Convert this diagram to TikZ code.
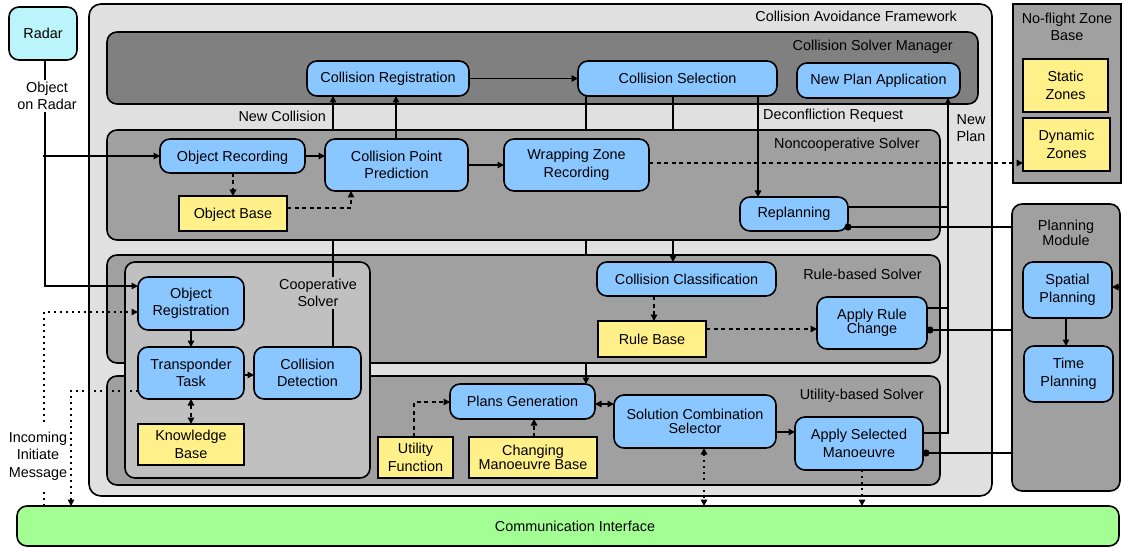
\documentclass[tikz,border=0pt]{standalone}
\usepackage{fontspec}
\setmainfont{Liberation Sans}
\usetikzlibrary{arrows.meta,calc}

% drawing order of the stacked solver panels and the links that run behind them
\pgfdeclarelayer{frames}
\pgfdeclarelayer{utilitylayer}
\pgfdeclarelayer{planlink}
\pgfdeclarelayer{rulelayer}
\pgfdeclarelayer{cooplayer}
\pgfdeclarelayer{uplinks}
\pgfdeclarelayer{noncooplayer}
\pgfsetlayers{frames,utilitylayer,planlink,rulelayer,cooplayer,uplinks,noncooplayer,main}

\definecolor{nodeblue}{RGB}{138,198,255}
\definecolor{baseyellow}{RGB}{255,240,138}
\definecolor{radarcyan}{RGB}{187,245,251}
\definecolor{commgreen}{RGB}{163,255,148}
\definecolor{fwgray}{RGB}{224,224,224}
\definecolor{mgrgray}{RGB}{128,128,128}
\definecolor{solvergray}{RGB}{160,160,160}
\definecolor{coopgray}{RGB}{192,192,192}

\newcommand\dfont{\fontsize{14.4pt}{17.5pt}\selectfont}
\newcommand\tightfont{\fontsize{14.4pt}{14.5pt}\selectfont}
\newcommand\pmfont{\fontsize{14.4pt}{15pt}\selectfont}

\tikzset{
  place/.style n args={4}{minimum width={(#3-#1)*1pt}, minimum height={(#4-#2)*1pt},
    at={({(#1+#3)/2},{(#2+#4)/2})}},
  area/.style={draw, line width=1.6pt, rounded corners=10pt, inner sep=0pt, outer sep=0pt},
  task/.style={area, fill=nodeblue, align=center, font=\dfont},
  store/.style={draw, line width=1.6pt, fill=baseyellow, align=center, inner sep=0pt, outer sep=0pt, font=\dfont},
  caption/.style={inner sep=0pt, align=center, font=\dfont},
  link/.style={line width=1.4pt},
  tip/.style={-{Triangle[length=6.5pt,width=6.5pt]}},
  twotip/.style={{Triangle[length=6.5pt,width=6.5pt]}-{Triangle[length=6.5pt,width=6.5pt]}},
  flow/.style={link, tip},
  dashlink/.style={link, dash pattern=on 4pt off 3.5pt},
  dotlink/.style={link, dash pattern=on 1.6pt off 4.4pt},
}

\begin{document}
\begin{tikzpicture}[x=1pt, y=-1pt]
\useasboundingbox (0,0) rectangle (1122,548);

% guide lines for connector routes
\foreach \xv in {44,45,71,191,233,333,351,396,414,534,586,654,673,704,758,862,948,1066}
  \coordinate (v\xv) at (\xv,0);
\foreach \yv in {163,207,208,227,286,287,308,312,329,330,375,391,402,404,432,433,453}
  \coordinate (h\yv) at (0,\yv);

% ---------- outer frames ----------
\begin{pgfonlayer}{frames}
  \node[area, rounded corners=12pt, fill=fwgray, place={89}{4}{992}{496}] (CAF) {};
  \node[area, fill=mgrgray, place={107}{32}{978}{104}] (CSM) {};
  \node[draw, line width=1.6pt, fill=solvergray, inner sep=0pt, outer sep=0pt,
        place={1013}{4}{1121}{183}] (NFZ) {};
  \node[area, fill=solvergray, place={1012}{204}{1120}{491}] (PM) {};
  \node[area, fill=commgreen, font=\dfont, place={17}{506}{1119}{546}] (CI)
    {\hspace*{14pt}Communication Interface};
\end{pgfonlayer}
\begin{pgfonlayer}{utilitylayer}
  \node[area, fill=solvergray, place={107}{376}{940}{485}] (UBS) {};
\end{pgfonlayer}
\begin{pgfonlayer}{rulelayer}
  \node[area, fill=solvergray, place={107}{255}{940}{363}] (RBS) {};
\end{pgfonlayer}
\begin{pgfonlayer}{cooplayer}
  \node[area, fill=coopgray, place={125}{262}{370}{478}] (COOP) {};
\end{pgfonlayer}
\begin{pgfonlayer}{noncooplayer}
  \node[area, fill=solvergray, place={107}{130}{940}{240}] (NCS) {};
\end{pgfonlayer}

% ---------- frame titles ----------
\node[caption, anchor=east] (tCAF) at (957,16) {Collision Avoidance Framework};
\node[caption, anchor=east] (tCSM) at (953,47) {Collision Solver Manager};
\node[caption, anchor=east] (tNCS) at (920,145) {Noncooperative Solver};
\node[caption, anchor=east] (tRBS) at (922,274) {Rule-based Solver};
\node[caption, anchor=east] (tUBS) at (924,396) {Utility-based Solver};
\node[caption] (tNFZ) at (1067,27) {No-flight Zone\\Base};
\node[caption, font=\pmfont] (tPM) at (1066,233) {Planning\\Module};

% ---------- components ----------
\node[task, fill=radarcyan, place={9}{7}{77}{60}] (Radar) {\raisebox{-1.5pt}{Radar}};

\node[task, place={307}{61}{469}{96}] (CR) {Collision Registration};
\node[task, place={578}{61}{777}{96}] (CSel) {Collision Selection};
\node[task, place={797}{63}{960}{98}] (NPA) {New Plan Application};

\node[task, text depth=0pt, place={160}{139}{305}{173}] (OR) {Object Recording};
\node[task, place={325}{139}{468}{191}] (CPP) {Collision Point\\Prediction};
\node[task, place={504}{139}{649}{191}] (WZR) {Wrapping Zone\\Recording};
\node[store, text depth=0pt, place={179}{196}{287}{231}] (OB) {Object Base};
\node[task, place={740}{197}{848}{231}] (RP) {Replanning};

\node[task, place={597}{262}{776}{296}] (CC) {Collision Classification};
\node[store, place={598}{321}{706}{357}] (RB) {Rule Base};
\node[task, font=\tightfont, place={817}{297}{927}{349}] (ARC) {Apply Rule\\Change};

\node[task, place={138}{277}{244}{330}] (OReg) {Object\\Registration};
\node[task, place={138}{347}{244}{399}] (TT) {Transponder\\Task};
\node[task, place={254}{347}{361}{399}] (CD) {Collision\\Detection};
\node[store, place={138}{424}{244}{465}] (KB) {Knowledge\\Base};

\node[task, place={450}{384}{595}{419}] (PG) {Plans Generation};
\node[task, font=\tightfont, place={614}{395}{776}{448}] (SCS) {Solution Combination\\Selector};
\node[task, place={795}{417}{923}{470}] (ASM) {Apply Selected\\Manoeuvre};
\node[store, place={378}{437}{453}{478}] (UF) {Utility\\Function};
\node[store, font=\tightfont, place={469}{437}{597}{478}] (CMB) {Changing\\Manoeuvre Base};

\node[store, place={1023}{59}{1108}{112}] (SZ) {Static\\Zones};
\node[store, place={1023}{118}{1110}{171}] (DZ) {Dynamic\\Zones};

\node[task, place={1023}{262}{1112}{318}] (SP) {Spatial\\Planning};
\node[task, place={1024}{346}{1113}{402}] (TP) {Time\\Planning};

% ---------- links running behind the solver panels ----------
\begin{pgfonlayer}{planlink}
  \draw[flow] (CSel.south -| v586) -- (PG.north -| v586);
\end{pgfonlayer}
\begin{pgfonlayer}{uplinks}
  \draw[flow] (CSel.south -| v673) -- (CC.north -| v673);
  \draw[flow] (CD.north -| v333) -- (CR.south -| v333);
\end{pgfonlayer}

% ---------- collision solver manager ----------
\draw[flow] (CR.east) -- (CSel.west);
\draw[flow] (CPP.north -| v396) -- (CR.south -| v396);
\draw[flow] (CSel.south -| v758) -- (RP.north -| v758);

% ---------- noncooperative solver ----------
\draw[flow] (OR.east) -- (OR.east -| CPP.west);
\draw[flow] (CPP.east) -- (WZR.west);
\draw[dashlink, tip] (OR.south -| v233) -- (OB.north -| v233);
\draw[dashlink, tip] (OB.east |- h208) -| (CPP.south -| v351);
\draw[dashlink, tip] (WZR.east |- h163) -- (DZ.west |- h163);

% ---------- new plans back to the manager ----------
\draw[link] (RP.east |- h207) -- (v948 |- h207);
\draw[link] (ARC.east |- h308) -- (v948 |- h308);
\draw[flow] (ASM.east |- h433) -| (NPA.south -| v948);

% ---------- planning module service ----------
\draw[link] (RP.east |- h227) -- (PM.west |- h227);
\fill (RP.east |- h227) circle (3.6pt);
\draw[link] (ARC.east |- h330) -- (PM.west |- h330);
\fill ($(ARC.east |- h330)+(3,0)$) circle (3.6pt);
\draw[link] (ASM.east |- h453) -- (PM.west |- h453);
\fill ($(ASM.east |- h453)+(3,0)$) circle (3.6pt);
\draw[flow] (SP.south -| v1066) -- (TP.north -| v1066);
\draw[flow] (PM.east |- h287) -- (SP.east |- h287);

% ---------- cooperative solver ----------
\draw[flow] (OReg.south -| v191) -- (TT.north -| v191);
\draw[flow] (TT.east |- h375) -- (CD.west |- h375);
\draw[dashlink, twotip] (TT.south -| v191) -- (KB.north -| v191);

% ---------- rule-based solver ----------
\draw[dashlink, tip] (CC.south -| v654) -- (RB.north -| v654);
\draw[dashlink, tip] (RB.east |- h329) -- (ARC.west |- h329);

% ---------- utility-based solver ----------
\draw[dashlink, tip] (UF.north -| v414) |- (PG.west |- h402);
\draw[dashlink, tip] (CMB.north -| v534) -- (PG.south -| v534);
\draw[link, twotip] (PG.east |- h404) -- (SCS.west |- h404);
\draw[flow] (SCS.east |- h432) -- (ASM.west |- h432);

% ---------- communication ----------
\draw[dotlink, twotip] (SCS.south -| v704) -- (CI.north -| v704);
\draw[dotlink, tip] (ASM.south -| v862) -- (CI.north -| v862);
\draw[dotlink, tip] (CI.north -| v44) |- (OReg.west |- h312);
\draw[dotlink, tip] (TT.west |- h391) -| (CI.north -| v71);

% ---------- radar input ----------
\draw[flow] (Radar.south -| v45) |- (OReg.west |- h286);
\draw[flow] (Radar.south |- OR.west) -- (OR.west);

% ---------- link captions ----------
\node[caption, fill=white, inner ysep=2pt] (lRadar) at (47,96) {Object\\on Radar};
\node[caption, fill=white, inner xsep=1pt, inner ysep=9pt] (lMsg) at (38,456) {Incoming\\Initiate\\Message};
\node[caption, fill=coopgray, inner ysep=2pt] (tCOOP) at (318,293) {Cooperative\\Solver};
\node[caption, anchor=east] (lNew) at (326,116) {New Collision};
\node[caption, anchor=west] (lDec) at (763,116) {Deconfliction Request};
\node[caption] (lPlan) at (971,128) {New\\Plan};
\end{tikzpicture}
\end{document}
